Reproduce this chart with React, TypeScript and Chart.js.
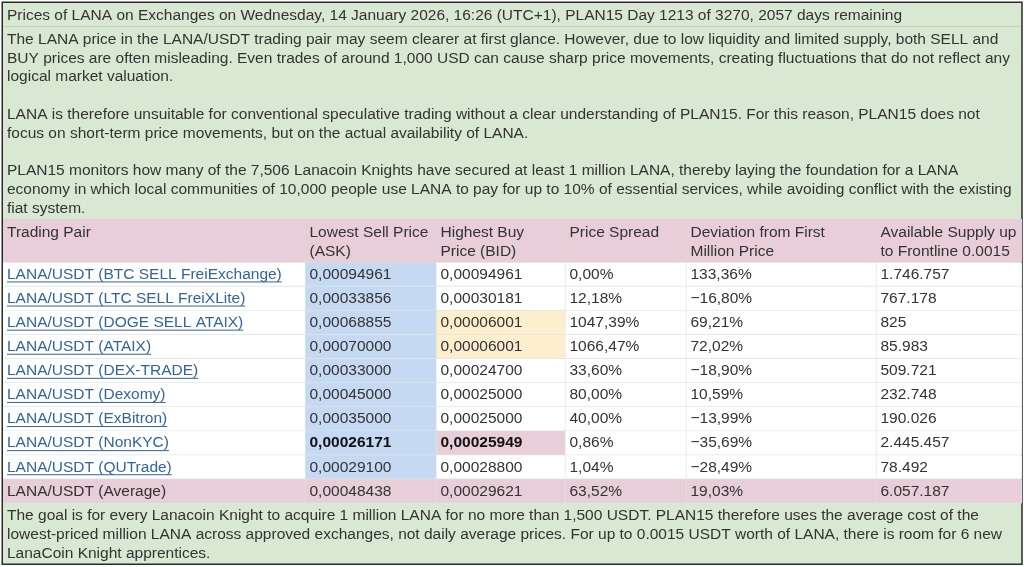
import { useEffect, useRef } from "react";
import { Chart, registerables } from "chart.js";

Chart.register(...registerables);

const heading =
   "Prices of LANA on Exchanges on Wednesday, 14 January 2026, 16:26 (UTC+1), PLAN15 Day 1213 of 3270, 2057 days remaining";

const introLines = [
   "The LANA price in the LANA/USDT trading pair may seem clearer at first glance. However, due to low liquidity and limited supply, both SELL and",
   "BUY prices are often misleading. Even trades of around 1,000 USD can cause sharp price movements, creating fluctuations that do not reflect any",
   "logical market valuation.",
   "",
   "LANA is therefore unsuitable for conventional speculative trading without a clear understanding of PLAN15. For this reason, PLAN15 does not",
   "focus on short-term price movements, but on the actual availability of LANA.",
   "",
   "PLAN15 monitors how many of the 7,506 Lanacoin Knights have secured at least 1 million LANA, thereby laying the foundation for a LANA",
   "economy in which local communities of 10,000 people use LANA to pay for up to 10% of essential services, while avoiding conflict with the existing",
   "fiat system.",
];

const footerLines = [
   "The goal is for every Lanacoin Knight to acquire 1 million LANA for no more than 1,500 USDT. PLAN15 therefore uses the average cost of the",
   "lowest-priced million LANA across approved exchanges, not daily average prices. For up to 0.0015 USDT worth of LANA, there is room for 6 new",
   "LanaCoin Knight apprentices.",
];

const headers = [
   ["Trading Pair"],
   ["Lowest Sell Price", "(ASK)"],
   ["Highest Buy", "Price (BID)"],
   ["Price Spread"],
   ["Deviation from First", "Million Price"],
   ["Available Supply up", "to Frontline 0.0015"],
];

const tradingPairs = [
   "LANA/USDT (BTC SELL FreiExchange)",
   "LANA/USDT (LTC SELL FreiXLite)",
   "LANA/USDT (DOGE SELL ATAIX)",
   "LANA/USDT (ATAIX)",
   "LANA/USDT (DEX-TRADE)",
   "LANA/USDT (Dexomy)",
   "LANA/USDT (ExBitron)",
   "LANA/USDT (NonKYC)",
   "LANA/USDT (QUTrade)",
   "LANA/USDT (Average)",
];
const askPrices = [0.00094961, 0.00033856, 0.00068855, 0.0007, 0.00033, 0.00045, 0.00035, 0.00026171, 0.000291, 0.00048438];
const bidPrices = [0.00094961, 0.00030181, 0.00006001, 0.00006001, 0.000247, 0.00025, 0.00025, 0.00025949, 0.000288, 0.00029621];
const priceSpreads = [0, 12.18, 1047.39, 1066.47, 33.6, 80, 40, 0.86, 1.04, 63.52];
const deviations = [133.36, -16.8, 69.21, 72.02, -18.9, 10.59, -13.99, -35.69, -28.49, 19.03];
const supplies = [1746757, 767178, 825, 85983, 509721, 232748, 190026, 2445457, 78492, 6057187];

const averageRow = tradingPairs.length - 1;
const bestRow = 7;
const lowBidRows = [2, 3];

// table geometry
const columnWidths = [302.5, 131, 129, 121, 190, 145.5];
const rowPx = 24.1;
const headerRows = 1.8;

const columnStarts = columnWidths.map((_, i) => columnWidths.slice(0, i).reduce((a, b) => a + b, 0));
const tableWidth = columnWidths.reduce((a, b) => a + b, 0);

const GREEN = "#d9e8d2";
const PINK = "#e8ced9";
const BLUE = "#c6d9f3";
const YELLOW = "#fdefcd";
const WHITE = "#ffffff";
const GRID = "#e3e5e4";
const INK = "#333333";
const LINK = "#33649e";
const FONT = '"Liberation Sans", Arial, sans-serif';
const FONT_SIZE = 15.5;

const money = (v: number) => v.toFixed(8).replace(".", ",");
const percent = (v: number) => (v < 0 ? "\u2212" : "") + Math.abs(v).toFixed(2).replace(".", ",") + "%";
const thousands = (v: number) => String(v).replace(/\B(?=(\d{3})+$)/g, ".");

const cellText = (row: number, col: number) => {
   if (col === 0) return tradingPairs[row];
   if (col === 1) return money(askPrices[row]);
   if (col === 2) return money(bidPrices[row]);
   if (col === 3) return percent(priceSpreads[row]);
   if (col === 4) return percent(deviations[row]);
   return thousands(supplies[row]);
};

const cellColor = (row: number, col: number) => {
   if (row === averageRow) return PINK;
   if (col === 1) return BLUE;
   if (col === 2 && lowBidRows.includes(row)) return YELLOW;
   if (col === 2 && row === bestRow) return PINK;
   return WHITE;
};

const cellBars = tradingPairs.flatMap((_, row) =>
   columnWidths.map((w, col) => ({ x: [columnStarts[col], columnStarts[col] + w], y: row + 0.5 }))
);
const cellColors = tradingPairs.flatMap((_, row) => columnWidths.map((_w, col) => cellColor(row, col)));
const headerBars = columnWidths.map((w, col) => ({
   x: [columnStarts[col], columnStarts[col] + w],
   y: -headerRows / 2,
}));

const tableText = {
   id: "tableText",
   beforeDatasetsDraw(chart: any) {
      const ctx = chart.ctx;
      ctx.save();
      ctx.fillStyle = GREEN;
      ctx.fillRect(3, 3, 1019, 561);
      ctx.strokeStyle = "#c3d3bb";
      ctx.lineWidth = 1;
      ctx.beginPath();
      ctx.moveTo(3, 26.5);
      ctx.lineTo(1022, 26.5);
      ctx.stroke();
      ctx.strokeStyle = "#2a2a2a";
      ctx.lineWidth = 1.5;
      ctx.strokeRect(2.25, 2.25, 1019.75, 562);
      ctx.restore();
   },
   afterDatasetsDraw(chart: any) {
      const { ctx, scales } = chart;
      const { x, y } = scales;
      ctx.save();
      ctx.textBaseline = "middle";
      ctx.textAlign = "left";
      ctx.font = `${FONT_SIZE}px ${FONT}`;
      ctx.fillStyle = INK;

      ctx.fillText(heading, 7, 15.5);
      introLines.forEach((line, i) => ctx.fillText(line, 7, 39.5 + i * 18.75));
      footerLines.forEach((line, i) => ctx.fillText(line, 7, 516 + i * 18.75));

      const headerTop = y.getPixelForValue(-headerRows);
      headers.forEach((lines, col) => {
         lines.forEach((line, i) => {
            ctx.fillText(line, x.getPixelForValue(columnStarts[col]) + 4, headerTop + 13.5 + i * 18.75);
         });
      });

      tradingPairs.forEach((_, row) => {
         const cy = y.getPixelForValue(row + 0.5);
         columnWidths.forEach((_w, col) => {
            const left = x.getPixelForValue(columnStarts[col]) + 4;
            const text = cellText(row, col);
            const bold = row === bestRow && (col === 1 || col === 2);
            const link = col === 0 && row !== averageRow;
            ctx.font = `${bold ? "bold " : ""}${FONT_SIZE}px ${FONT}`;
            ctx.fillStyle = bold ? "#111111" : link ? LINK : INK;
            ctx.fillText(text, left, cy);
            if (link) ctx.fillRect(left, cy + 7, ctx.measureText(text).width, 1);
         });
      });
      ctx.restore();
   },
};

export default function App() {
   const canvasRef = useRef<HTMLCanvasElement>(null);

   useEffect(() => {
      if (!canvasRef.current) return;
      const chart = new Chart(canvasRef.current, {
         type: "bar",
         data: {
            datasets: [
               {
                  data: headerBars as any,
                  backgroundColor: PINK,
                  borderColor: "#dfd3d9",
                  borderWidth: { right: 1, bottom: 0, top: 0, left: 0 },
                  borderSkipped: false,
                  barThickness: rowPx * headerRows,
                  grouped: false,
               },
               {
                  data: cellBars as any,
                  backgroundColor: cellColors,
                  borderColor: GRID,
                  borderWidth: { right: 1, bottom: 1, top: 0, left: 0 },
                  borderSkipped: false,
                  barThickness: rowPx,
                  grouped: false,
               },
            ],
         },
         options: {
            indexAxis: "y",
            responsive: false,
            animation: false,
            events: [],
            layout: {
               padding: { left: 3, right: 2, top: 219, bottom: 567 - 219 - rowPx * (tradingPairs.length + headerRows) },
            },
            plugins: { legend: { display: false }, tooltip: { enabled: false }, title: { display: false } },
            scales: {
               x: { type: "linear", display: false, min: 0, max: tableWidth },
               y: { type: "linear", display: false, offset: false, reverse: true, min: -headerRows, max: tradingPairs.length },
            },
         },
         plugins: [tableText],
      });
      return () => chart.destroy();
   }, []);

   return (
      <div style={{ position: "absolute", left: 0, top: 0, width: 1024, height: 567, background: "#fff" }}>
         <canvas ref={canvasRef} width={1024} height={567} style={{ display: "block" }} />
      </div>
   );
}
